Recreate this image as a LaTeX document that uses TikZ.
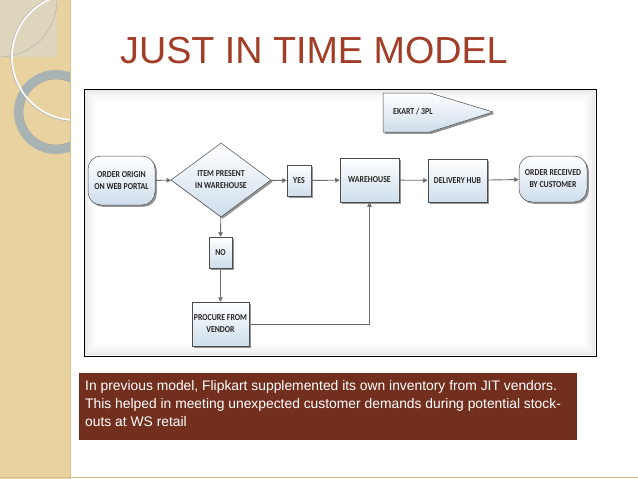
\documentclass[tikz,border=0pt]{standalone}
\usepackage{fontspec}
\setmainfont{Liberation Sans}
\newfontfamily\boxfont[FakeStretch=0.86]{Carlito}
\usetikzlibrary{shapes.geometric,arrows.meta,shadows}
\definecolor{stripc}{RGB}{232,210,160}
\definecolor{striplight}{RGB}{222,214,188}
\definecolor{stripedge}{RGB}{214,190,140}
\definecolor{ringc}{RGB}{168,180,180}
\definecolor{titlec}{RGB}{162,62,40}
\definecolor{brownc}{RGB}{114,47,30}
\definecolor{boxblue}{RGB}{206,222,236}
\definecolor{connc}{RGB}{110,110,110}
\tikzset{
  shapebase/.style={draw=black!70, line width=0.5pt, top color=white, bottom color=boxblue,
    drop shadow={shadow xshift=1.8pt, shadow yshift=-1.8pt, fill=black!75, opacity=0.55}},
  lbl/.style={font=\boxfont\bfseries\fontsize{9.1}{12}\selectfont, text=black!85, align=center, inner sep=0pt},
  boxnode/.style={shapebase, lbl, rectangle},
  termnode/.style={shapebase, lbl, rectangle, rounded corners=13pt},
  decnode/.style={shapebase, lbl, diamond, aspect=1.35, minimum width=100pt, minimum height=74pt},
  conn/.style={draw=connc, line width=0.9pt, -{Triangle[length=4.5pt,width=4.5pt]}},
}
\begin{document}
\begin{tikzpicture}[x=1pt,y=-1pt]
\useasboundingbox (0,0) rectangle (638,479);
\fill[white] (0,0) rectangle (638,479);
% left decorative strip
\fill[stripc] (0,0) rectangle (70,479);
\begin{scope}
  \clip (0,0) rectangle (70,479);
  \fill[striplight] (0,0) rectangle (57,57);
  \draw[black!30, line width=0.6pt] (0,0) circle (57);
  \fill[ringc, even odd rule] (56,112) circle (42) (56,112) circle (33);
  \draw[black!35, line width=0.5pt] (56,112) circle (33);
  \draw[black!30, line width=0.6pt] (75,57) circle (64.3);
  \draw[white, line width=1.6pt] (75,57) circle (63);
\end{scope}
\draw[stripedge, line width=1pt] (70.5,0) -- (70.5,479);
\draw[stripedge, line width=1pt] (0,477.5) -- (638,477.5);
% title
\node[anchor=base west, inner sep=0pt, text=titlec, font=\fontsize{37.7}{38}\selectfont] (title) at (120,63) {JUST IN TIME MODEL};
% diagram frame with soft inner glow
\draw[black, line width=0.8pt, fill=white] (84,89) rectangle (596,356);
\foreach \i/\c in {1.5/9,3/7,4.5/5,6/4,7.5/3,9/2,10.5/1}
  \draw[black!\c, line width=1.5pt] (84+\i,89+\i) rectangle (596-\i,356-\i);
% nodes
\node[termnode, minimum width=67pt, minimum height=49pt] (origin) at (121.5,180.5) {ORDER ORIGIN\\ON WEB PORTAL};
\node[decnode] (item) at (221,180) {ITEM PRESENT\\IN WAREHOUSE};
\node[boxnode, minimum width=24pt, minimum height=31pt] (yes) at (299,180.5) {YES};
\node[boxnode, minimum width=59pt, minimum height=44pt] (wh) at (369.5,180) {WAREHOUSE};
\node[boxnode, minimum width=59pt, minimum height=43pt] (hub) at (457.5,180.5) {DELIVERY HUB};
\node[termnode, minimum width=68pt, minimum height=46pt] (recv) at (553,179) {ORDER RECEIVED\\BY CUSTOMER};
\node[boxnode, minimum width=23pt, minimum height=31pt] (no) at (220.5,252.5) {NO};
\node[boxnode, minimum width=57pt, minimum height=44pt] (proc) at (220.5,324) {PROCURE FROM\\VENDOR};
\draw[shapebase] (383,93) -- (430,93) -- (493,112) -- (430,132) -- (383,132) -- cycle;
\node[lbl, anchor=west] (ekart) at (393,112) {EKART / 3PL};
% connectors
\draw[conn] (origin) -- (item);
\draw[conn] (item) -- (yes);
\draw[conn] (yes) -- (wh);
\draw[conn] (wh) -- (hub);
\draw[conn] (hub) -- (recv);
\draw[conn] (item) -- (no);
\draw[conn] (no) -- (proc);
\draw[conn] (proc.east) -| (wh.south);
% note box
\node[fill=brownc, minimum width=498pt, minimum height=67pt, inner sep=0pt] (note) at (328,406.5) {};
\node[anchor=north west, inner sep=0pt, text=white, align=left, font=\fontsize{13.85}{18}\selectfont] (notetext) at (85,380.5) {In previous model, Flipkart supplemented its own inventory from JIT vendors.\\This helped in meeting unexpected customer demands during potential stock-\\outs at WS retail};
\end{tikzpicture}
\end{document}
